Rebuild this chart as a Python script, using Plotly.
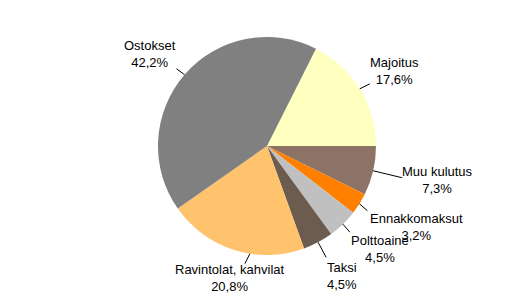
import math
import plotly.graph_objects as go

# ---- data ----
labels = ["Majoitus", "Muu kulutus", "Ennakkomaksut", "Polttoaine", "Taksi",
          "Ravintolat, kahvilat", "Ostokset"]
values = [17.6, 7.3, 3.2, 4.5, 4.5, 20.8, 42.2]
value_text = ["17,6%", "7,3%", "3,2%", "4,5%", "4,5%", "20,8%", "42,2%"]

# ---- style / layout ----
colors = ["#FFFFC0", "#8C7366", "#FF8000", "#C0C0C0", "#6B5C4F", "#FFC36E", "#808080"]
W, H = 529, 293
CX, CY, R = 267, 146, 109
total = sum(values)
rotation = 90 - 360 * values[0] / total  # first slice ends at 3 o'clock

# label block centers (px) and leader line tweaks: (angle adjust deg, end dx, end dy)
label_pos = [(394, 71), (437, 180), (416, 227), (380, 249), (342, 276), (229, 278), (150, 54)]
leaders = [(0, 10, -5), (0, 29, 7), (0, 8, 7), (0, 7, 8), (0, 8, 15), (-8.5, -5, 10), (0, -8, -6)]

fig = go.Figure(go.Pie(
    labels=labels, values=values, sort=False, direction="clockwise",
    rotation=rotation, marker=dict(colors=colors, line=dict(width=0)),
    textinfo="none", hoverinfo="label+percent", showlegend=False,
    domain=dict(x=[(CX - R) / W, (CX + R) / W], y=[1 - (CY + R) / H, 1 - (CY - R) / H]),
))

shapes = []
annotations = []
cum = 0.0
for i, v in enumerate(values):
    mid = cum + v / 2
    cum += v
    ang = math.radians(rotation + 360 * mid / total + leaders[i][0])
    sx = CX + R * math.sin(ang)
    sy = CY - R * math.cos(ang)
    ex, ey = sx + leaders[i][1], sy + leaders[i][2]
    shapes.append(dict(type="line", xref="paper", yref="paper",
                       x0=sx / W, y0=1 - sy / H, x1=ex / W, y1=1 - ey / H,
                       line=dict(color="black", width=1)))
    lx, ly = label_pos[i]
    annotations.append(dict(x=lx / W, y=1 - ly / H, xref="paper", yref="paper",
                            text=f"{labels[i]}<br>{value_text[i]}", showarrow=False,
                            xanchor="center", yanchor="middle", align="center",
                            font=dict(size=13, color="black", family="Arial, Liberation Sans")))

fig.update_layout(width=W, height=H, margin=dict(l=0, r=0, t=0, b=0),
                  paper_bgcolor="white", plot_bgcolor="white",
                  shapes=shapes, annotations=annotations)
fig.write_html("out.html")
